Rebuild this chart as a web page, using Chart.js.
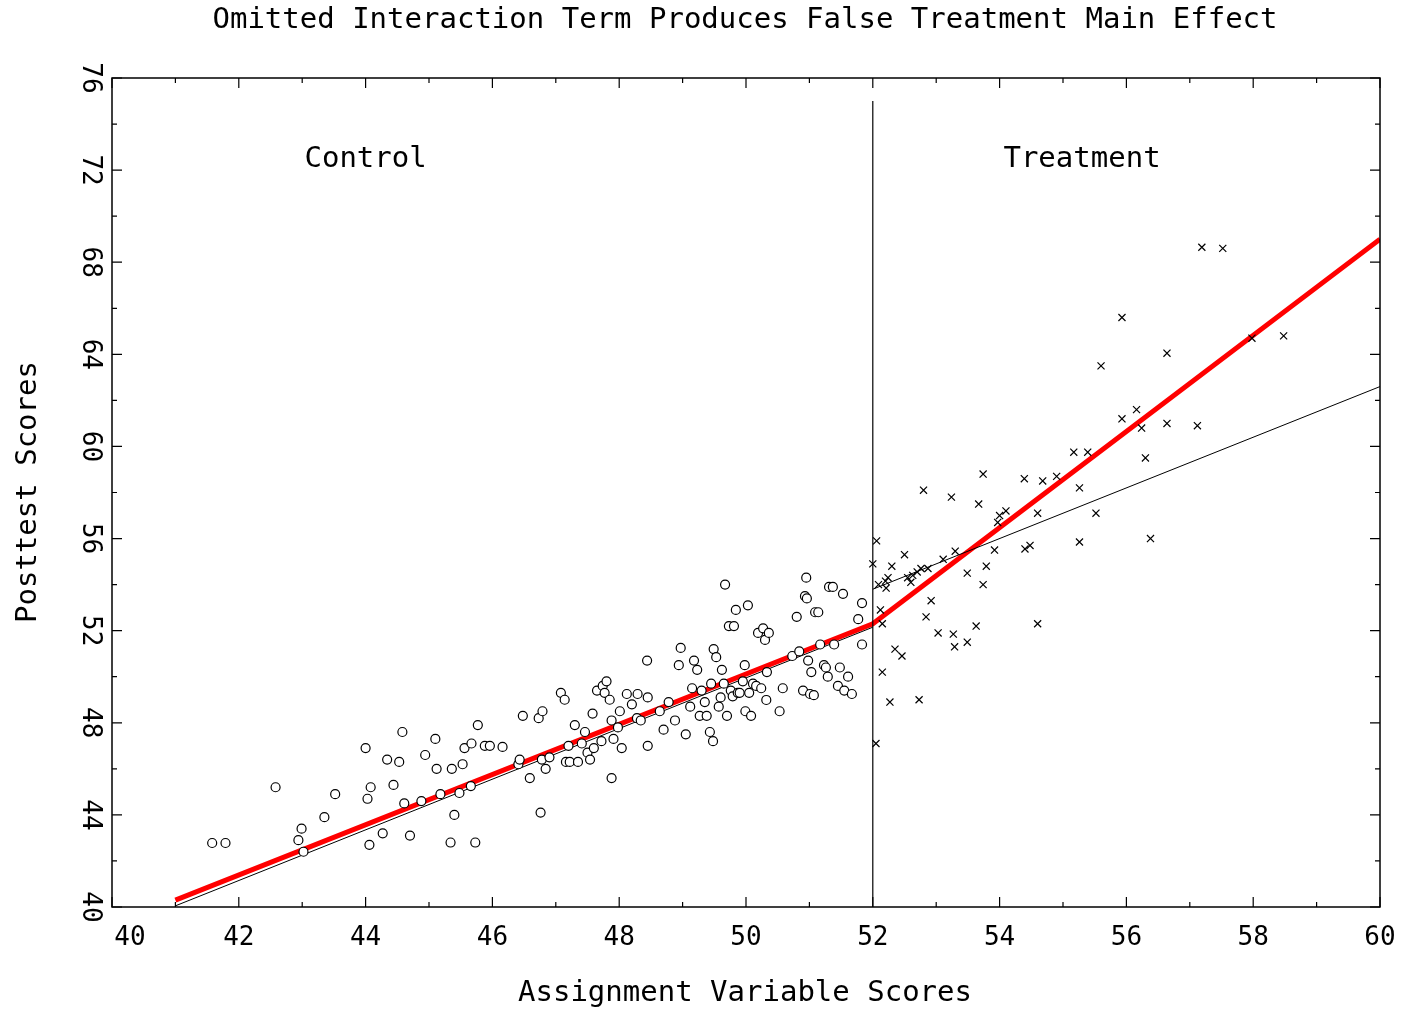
<!DOCTYPE html>
<html>
<head>
<meta charset="utf-8">
<script src="https://cdn.jsdelivr.net/npm/chart.js@4.4.0/dist/chart.umd.min.js"></script>
<style>
  body { margin: 0; background: #fff; }
  canvas { display: block; }
</style>
</head>
<body>
<canvas id="chart" width="1402" height="1009"></canvas>
<script>
// --- Data ---
const xTicks = [40, 42, 44, 46, 48, 50, 52, 54, 56, 58, 60];
const yTicks = [40, 44, 48, 52, 56, 60, 64, 68, 72, 76];
const cutoff = 52;

const controlX = [41.58,41.79,42.58,42.94,42.99,43.02,43.35,43.52,44.0,44.03,44.08,44.06,44.27,44.34,44.44,44.53,44.58,44.61,44.7,44.88,44.94,45.1,45.12,45.18,45.36,45.4,45.34,45.48,45.53,45.56,45.66,45.67,45.77,45.73,45.88,45.96,46.16,46.41,46.43,46.48,46.59,46.73,46.76,46.78,46.79,46.84,46.9,47.08,47.14,47.16,47.2,47.22,47.3,47.35,47.41,47.46,47.5,47.54,47.58,47.6,47.65,47.72,47.74,47.77,47.8,47.85,47.88,47.88,47.91,47.98,48.01,48.04,48.12,48.2,48.28,48.29,48.34,48.44,48.45,48.45,48.64,48.7,48.78,48.88,48.94,48.97,49.05,49.12,49.15,49.18,49.23,49.27,49.3,49.35,49.38,49.43,49.45,49.48,49.49,49.53,49.57,49.6,49.62,49.65,49.67,49.7,49.73,49.76,49.79,49.81,49.84,49.87,49.9,49.95,49.98,49.99,50.03,50.05,50.08,50.11,50.16,50.19,50.24,50.27,50.3,50.32,50.33,50.36,50.53,50.58,50.73,50.8,50.84,50.9,50.93,50.95,50.96,50.98,51.01,51.03,51.07,51.09,51.14,51.17,51.23,51.26,51.29,51.31,51.37,51.39,51.45,51.48,51.53,51.55,51.61,51.67,51.77,51.83,51.83];
const controlY = [42.78,42.78,45.2,42.9,43.4,42.4,43.9,44.9,46.9,44.7,45.2,42.7,43.2,46.4,45.3,46.3,47.6,44.5,43.1,44.6,46.6,47.3,46.0,44.9,46.0,44.0,42.8,44.95,46.2,46.9,45.25,47.1,47.9,42.8,47.0,47.0,46.95,46.2,46.4,48.3,45.6,48.2,44.1,46.4,48.5,46.0,46.5,49.3,49.0,46.3,47.0,46.3,47.9,46.3,47.1,47.6,46.7,46.4,48.4,46.9,49.4,47.2,49.6,49.3,49.8,49.0,48.1,45.6,47.3,47.8,48.5,46.9,49.25,48.8,48.2,49.25,48.1,50.7,49.1,47.0,48.5,47.7,48.9,48.1,50.5,51.25,47.5,48.7,49.5,50.7,50.3,48.3,49.4,48.9,48.3,47.6,49.7,47.2,51.2,50.85,48.7,49.1,50.3,49.7,54.0,48.3,52.2,49.4,49.15,52.2,52.9,49.3,49.3,49.8,50.5,48.5,53.1,49.3,48.3,49.7,49.6,51.9,49.5,52.1,51.6,48.99,50.2,51.9,48.5,49.5,50.9,52.6,51.1,49.4,53.5,54.3,53.4,50.7,49.25,50.2,49.2,52.8,52.8,51.4,50.5,50.4,50.0,53.9,53.9,51.4,49.6,50.4,53.6,49.4,50.0,49.25,52.5,53.2,51.4];

const treatX = [52.0,52.06,52.05,52.09,52.12,52.15,52.15,52.2,52.21,52.24,52.27,52.3,52.35,52.46,52.5,52.55,52.6,52.63,52.7,52.73,52.76,52.8,52.84,52.87,52.92,53.03,53.11,53.24,53.27,53.29,53.3,53.49,53.49,53.63,53.67,53.74,53.74,53.79,53.92,53.97,54.0,54.1,54.4,54.39,54.48,54.6,54.6,54.68,54.9,55.17,55.26,55.26,55.39,55.52,55.6,55.93,55.93,56.16,56.24,56.3,56.38,56.64,56.64,57.12,57.19,57.52,57.98,58.48];
const treatY = [54.9,55.9,47.1,54.0,52.9,52.3,50.2,54.15,53.85,54.3,48.9,54.8,51.2,50.9,55.3,54.3,54.1,54.4,54.55,49.0,54.7,58.1,52.6,54.7,53.3,51.9,55.1,57.8,51.85,51.3,55.45,51.5,54.5,52.2,57.5,54.0,58.8,54.8,55.5,56.7,57.0,57.2,55.55,58.6,55.7,52.3,57.1,58.5,58.7,59.75,58.2,55.85,59.75,57.1,63.5,65.6,61.2,61.6,60.8,59.5,56.0,64.05,61.0,60.9,68.65,68.6,64.7,64.8];

// regression lines
const fitControlX = [41, 52];
const fitControlY = [40.05, 52.15];
const fitTreatX = [52, 60];
const fitTreatY = [53.8, 62.6];
const trueX = [41, 52, 60];
const trueY = [40.3, 52.3, 69.0];

const FONT = '"DejaVu Sans Mono", monospace';
const toPts = (xs, ys) => xs.map((x, i) => ({ x, y: ys[i] }));

// --- Axes, frame and labels drawn by hand ---
const framePlugin = {
    id: 'frame',
    afterDraw(chart) {
        const { ctx, chartArea: a, scales: { x, y } } = chart;
        ctx.save();
        ctx.strokeStyle = '#000';
        ctx.fillStyle = '#000';
        ctx.lineWidth = 1.5;
        ctx.strokeRect(a.left, a.top, a.right - a.left, a.bottom - a.top);

        // tick marks, inward on all sides
        ctx.lineWidth = 1.2;
        for (let v = 40; v <= 60; v += 1) {
            const px = x.getPixelForValue(v);
            const len = v % 2 === 0 ? 10 : 5;
            ctx.beginPath();
            ctx.moveTo(px, a.bottom); ctx.lineTo(px, a.bottom - len);
            ctx.moveTo(px, a.top); ctx.lineTo(px, a.top + len);
            ctx.stroke();
        }
        for (let v = 40; v <= 76; v += 2) {
            const py = y.getPixelForValue(v);
            const len = v % 4 === 0 ? 10 : 5;
            ctx.beginPath();
            ctx.moveTo(a.left, py); ctx.lineTo(a.left + len, py);
            ctx.moveTo(a.right, py); ctx.lineTo(a.right - len, py);
            ctx.stroke();
        }

        // cutoff line
        ctx.beginPath();
        ctx.moveTo(x.getPixelForValue(cutoff), y.getPixelForValue(75));
        ctx.lineTo(x.getPixelForValue(cutoff), a.bottom);
        ctx.stroke();

        // tick labels
        ctx.font = '26px ' + FONT;
        ctx.textAlign = 'center';
        ctx.textBaseline = 'middle';
        xTicks.forEach(v => {
            const px = v === 40 ? 130 : x.getPixelForValue(v);
            ctx.fillText(String(v), px, 938);
        });
        yTicks.forEach(v => {
            ctx.save();
            ctx.translate(90, y.getPixelForValue(v));
            ctx.rotate(Math.PI / 2);
            ctx.fillText(String(v), 0, 0);
            ctx.restore();
        });

        // titles
        ctx.font = '29px ' + FONT;
        ctx.fillText('Omitted Interaction Term Produces False Treatment Main Effect', 745, 20);
        ctx.fillText('Assignment Variable Scores', 745, 993);
        ctx.save();
        ctx.translate(28, 492);
        ctx.rotate(-Math.PI / 2);
        ctx.fillText('Posttest Scores', 0, 0);
        ctx.restore();

        ctx.fillText('Control', x.getPixelForValue(44), y.getPixelForValue(72.45));
        ctx.fillText('Treatment', x.getPixelForValue(55.3), y.getPixelForValue(72.45));
        ctx.restore();
    }
};

new Chart(document.getElementById('chart'), {
    type: 'scatter',
    data: {
        datasets: [
            { data: toPts(controlX, controlY), pointStyle: 'circle', pointRadius: 4.5,
              borderColor: '#000', backgroundColor: '#fff', borderWidth: 1.2 },
            { data: toPts(treatX, treatY), pointStyle: 'crossRot', pointRadius: 5,
              borderColor: '#000', borderWidth: 1.2 },
            { data: toPts(fitControlX, fitControlY), showLine: true, pointRadius: 0,
              borderColor: '#000', borderWidth: 1 },
            { data: toPts(fitTreatX, fitTreatY), showLine: true, pointRadius: 0,
              borderColor: '#000', borderWidth: 1 },
            { data: toPts(trueX, trueY), showLine: true, pointRadius: 0,
              borderColor: '#ff0000', borderWidth: 5 }
        ]
    },
    options: {
        responsive: false,
        animation: false,
        layout: { padding: { left: 112, right: 22, top: 78, bottom: 102 } },
        plugins: { legend: { display: false }, tooltip: { enabled: false } },
        scales: {
            x: { type: 'linear', min: 40, max: 60, display: false },
            y: { type: 'linear', min: 40, max: 76, display: false }
        }
    },
    plugins: [framePlugin]
});
</script>
</body>
</html>
